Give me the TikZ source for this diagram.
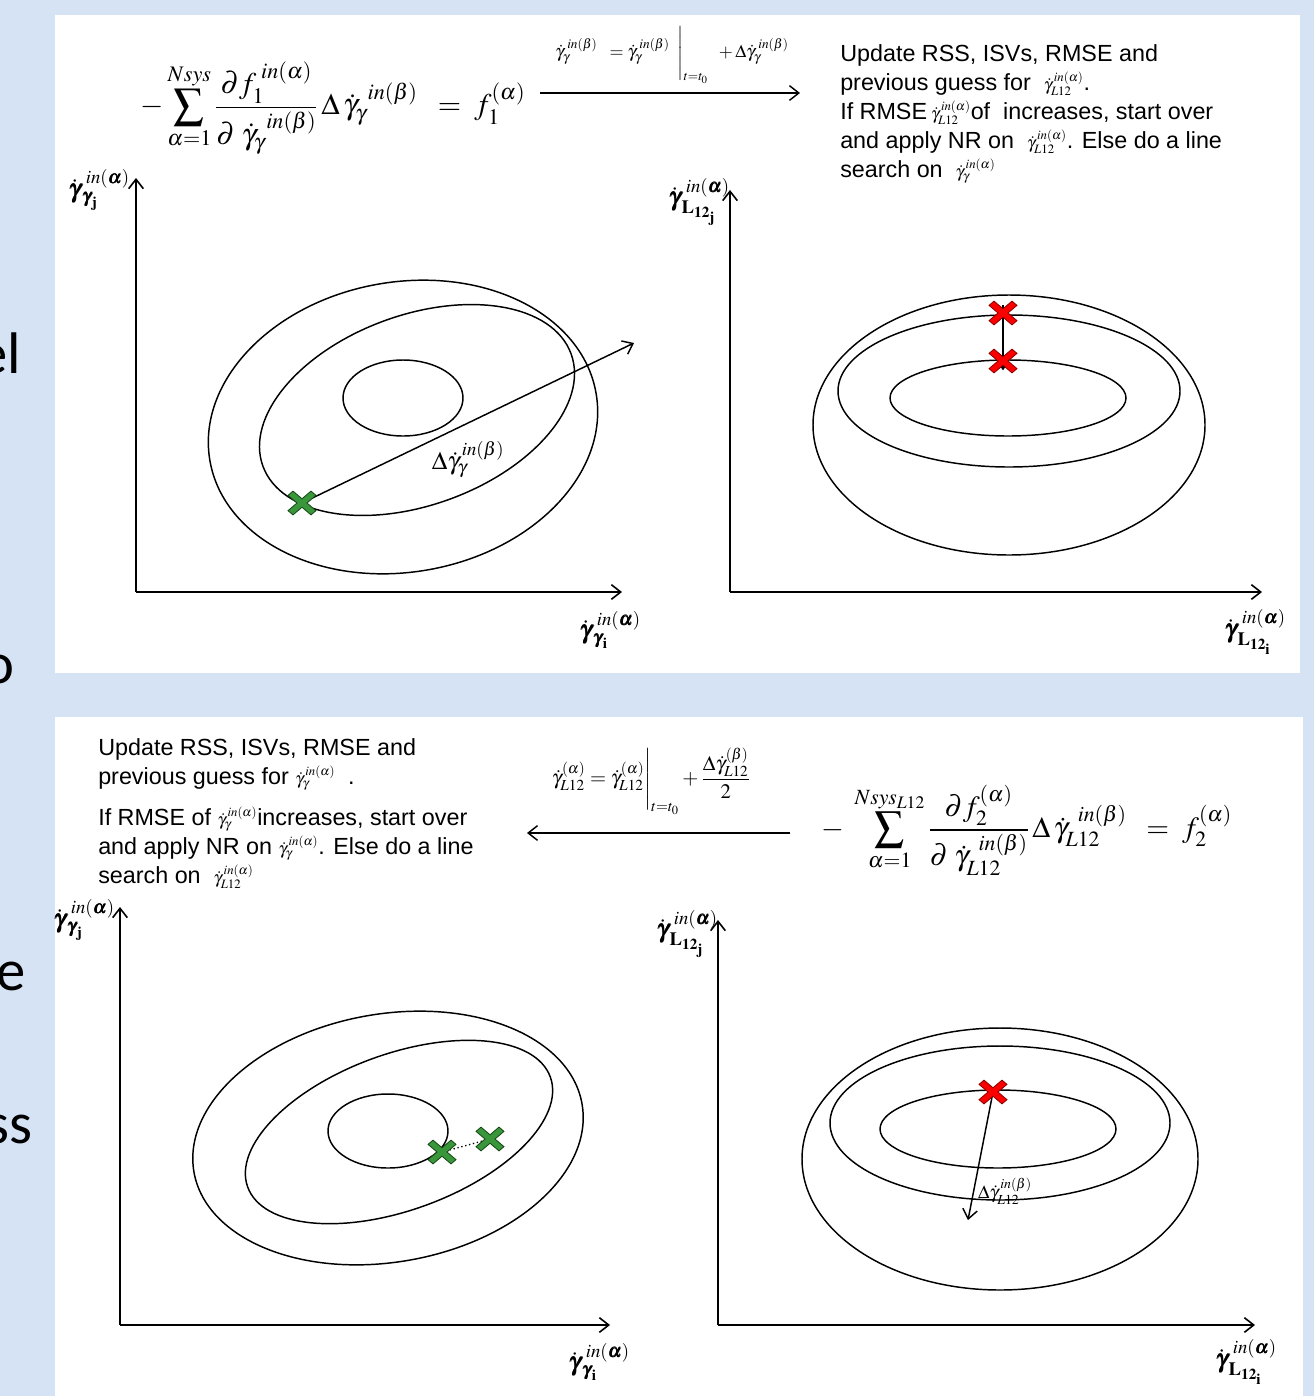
\documentclass[tikz,border=0pt]{standalone}
\usepackage{mathptmx}
\usepackage{amsmath,bm}
\usepackage[no-math]{fontspec}
\newfontfamily\arialf{Liberation Sans}
\newfontfamily\slidef{Carlito}
\usetikzlibrary{arrows.meta}
\definecolor{slideblue}{RGB}{214,227,245}
\definecolor{xgreen}{RGB}{58,150,58}
\definecolor{xgreenline}{RGB}{20,70,20}
\definecolor{xred}{RGB}{250,0,0}
\definecolor{xredline}{RGB}{140,0,0}
\newcommand\gm[1]{{\fontsize{13}{13}\selectfont$\dot\gamma_{#1}^{\,in(\alpha)}$}}
\newcommand\axl[2]{$\boldsymbol{\dot\gamma}_{#1_{\mathbf{#2}}}^{\;in(\boldsymbol{\alpha})}$}
\begin{document}
\begin{tikzpicture}[x=0.75pt,y=-0.75pt,
  panel/.style={fill=white,draw=none},
  axis/.style={line width=1.2pt,-{Straight Barb[length=7pt,width=11pt,line width=1.2pt]}},
  conn/.style={line width=1.1pt,-{Straight Barb[length=7pt,width=11pt,line width=1.1pt]}},
  small conn/.style={line width=0.9pt,-{Straight Barb[length=5pt,width=7pt,line width=0.9pt]}},
  ell/.style={line width=1.1pt},
  txt/.style={font=\arialf\fontsize{17.5}{21.75}\selectfont,align=left,inner sep=0pt},
  eq/.style={font=\fontsize{22.5}{27}\selectfont,inner sep=0pt},
  smalleq/.style={font=\fontsize{13.5}{15}\selectfont,inner sep=0pt},
  axlab/.style={font=\fontsize{19}{21}\selectfont,inner sep=0pt},
  cut/.style={font=\slidef\fontsize{44}{50}\selectfont,anchor=base east,inner sep=0pt},
  pics/xmark/.style 2 args={code={
    \fill[#1,draw=#2,line width=0.6pt,yscale=0.85]
      (0,-5) -- (9,-14) -- (14,-9) -- (5,0) -- (14,9) -- (9,14) -- (0,5)
      -- (-9,14) -- (-14,9) -- (-5,0) -- (-14,-9) -- (-9,-14) -- cycle;}}
]
\useasboundingbox (0,0) rectangle (1314,1396);
\clip (0,0) rectangle (1314,1396);
\fill[slideblue] (0,0) rectangle (1314,1396);
% cut-off slide text at the left edge
\node[cut] (c1) at (21,373) {el};
\node[cut] (c2) at (15,683) {o};
\node[cut] (c3) at (26,990) {e};
\node[cut] (c4) at (33,1143) {ss};
% panels
\fill[panel] (55,15) rectangle (1300,673);
\fill[panel] (55,717) rectangle (1303,1396);

%================ TOP PANEL =================
\node[eq] (eq1) at (333,108) {$\displaystyle -\sum_{\alpha=1}^{Nsys}\frac{\partial f_1^{\;in(\alpha)}}{\partial\;\dot\gamma_\gamma^{\;\;in(\beta)}}\,\Delta\,\dot\gamma_\gamma^{\;\;in(\beta)} \;\;=\; f_1^{(\alpha)}$};
\node[smalleq] (up1) at (672,55) {$\dot\gamma_\gamma^{\;in(\beta)} \;\;=\dot\gamma_\gamma^{\;in(\beta)}\;\;\Bigg|_{t=t_0} \;\;+\Delta\dot\gamma_\gamma^{\;in(\beta)}$};
\coordinate (a1s) at (540,93);
\coordinate (a1e) at (800,93);
\draw[conn] (a1s) -- (a1e);
\node[txt,anchor=north west] (t1) at (840,44) {Update RSS, ISVs, RMSE and\\
previous guess for \ \gm{L12}.\\
If RMSE\,\gm{L12}of \ increases, start over\\
and apply NR on \ \gm{L12}. Else do a line\\
search on \ \gm{\gamma}};

% top-left chart
\coordinate (o1) at (136,592);
\coordinate (y1) at (136,178);
\coordinate (x1) at (622,592);
\draw[axis] (o1) -- (y1);
\draw[axis] (o1) -- (x1);
\node[axlab] (ly1) at (99,190) {\axl{\boldsymbol\gamma}{j}};
\node[axlab] (lx1) at (610,630) {\axl{\boldsymbol\gamma}{i}};
\draw[ell,rotate around={10:(403,427)}] (403,427) ellipse [x radius=196, y radius=145];
\draw[ell,rotate around={20:(417,410)}] (417,410) ellipse [x radius=164, y radius=95];
\draw[ell] (403,398) ellipse [x radius=60, y radius=38];
\coordinate (g1) at (302,503);
\coordinate (g1e) at (634,343);
\draw[conn] (g1) -- (g1e);
\pic (gx1) at (g1) {xmark={xgreen}{xgreenline}};
\node[font=\fontsize{19}{21}\selectfont,inner sep=0pt] (d1) at (468,460) {$\Delta\dot\gamma_\gamma^{\,in(\beta)}$};

% top-right chart
\coordinate (o2) at (730,592);
\coordinate (y2) at (730,190);
\coordinate (x2) at (1262,592);
\draw[axis] (o2) -- (y2);
\draw[axis] (o2) -- (x2);
\node[axlab] (ly2) at (699,202) {\axl{\mathbf{L}}{12_j}};
\node[axlab] (lx2) at (1255,632) {\axl{\mathbf{L}}{12_i}};
\draw[ell] (1009,425) ellipse [x radius=196, y radius=130];
\draw[ell] (1009,391) ellipse [x radius=171, y radius=76];
\draw[ell] (1008,398) ellipse [x radius=118, y radius=38];
\coordinate (r1) at (1003,313);
\coordinate (r2) at (1003,361);
\draw[small conn] ([yshift=6]r1) -- ([yshift=-7]r2);
\pic (rx1) at (r1) {xmark={xred}{xredline}};
\pic (rx2) at (r2) {xmark={xred}{xredline}};

%================ BOTTOM PANEL =================
\node[txt,anchor=north west] (t2) at (98,738) {Update RSS, ISVs, RMSE and\\
previous guess for \gm{\gamma}\ \ .\\[9pt]
If RMSE of \gm{\gamma}increases, start over\\
and apply NR on \gm{\gamma}. Else do a line\\
search on \ \gm{L12}};
\node[smalleq,font=\fontsize{15.5}{17}\selectfont] (up2) at (651,781) {$\dot\gamma_{L12}^{(\alpha)} = \dot\gamma_{L12}^{(\alpha)}\Bigg|_{t=t_0} + \dfrac{\Delta\dot\gamma_{L12}^{(\beta)}}{2}$};
\coordinate (a2s) at (790,833);
\coordinate (a2e) at (527,833);
\draw[conn] (a2s) -- (a2e);
\node[eq,font=\fontsize{22}{26}\selectfont] (eq2) at (1027,830) {$\displaystyle -\;\sum_{\alpha=1}^{Nsys_{L12}}\frac{\partial f_2^{(\alpha)}}{\partial\;\dot\gamma_{L12}^{\;\;in(\beta)}}\,\Delta\,\dot\gamma_{L12}^{\;\;in(\beta)} \;\;=\; f_2^{(\alpha)}$};

% bottom-left chart
\coordinate (o3) at (120,1325);
\coordinate (y3) at (120,907);
\coordinate (x3) at (610,1325);
\draw[axis] (o3) -- (y3);
\draw[axis] (o3) -- (x3);
\node[axlab] (ly3) at (84,920) {\axl{\boldsymbol\gamma}{j}};
\node[axlab] (lx3) at (599,1362) {\axl{\boldsymbol\gamma}{i}};
\draw[ell,rotate around={10:(388,1138)}] (388,1138) ellipse [x radius=197, y radius=124];
\draw[ell,rotate around={20:(399,1132)}] (399,1132) ellipse [x radius=161, y radius=78];
\draw[ell] (388,1131) ellipse [x radius=60, y radius=37];
\coordinate (g2) at (442,1152);
\coordinate (g3) at (490,1139);
\draw[line width=1pt,dotted] (g2) -- (g3);
\pic (gx2) at (g2) {xmark={xgreen}{xgreenline}};
\pic (gx3) at (g3) {xmark={xgreen}{xgreenline}};

% bottom-right chart
\coordinate (o4) at (718,1325);
\coordinate (y4) at (718,920);
\coordinate (x4) at (1255,1325);
\draw[axis] (o4) -- (y4);
\draw[axis] (o4) -- (x4);
\node[axlab] (ly4) at (687,934) {\axl{\mathbf{L}}{12_j}};
\node[axlab] (lx4) at (1246,1362) {\axl{\mathbf{L}}{12_i}};
\draw[ell] (1000,1159) ellipse [x radius=198, y radius=131];
\draw[ell] (1000,1123) ellipse [x radius=170, y radius=77];
\draw[ell] (998,1129) ellipse [x radius=118, y radius=39];
\coordinate (r3) at (993,1092);
\coordinate (r3e) at (968,1220);
\draw[conn] (r3) -- (r3e);
\pic (rx3) at (r3) {xmark={xred}{xredline}};
\node[font=\fontsize{14}{16}\selectfont,inner sep=0pt] (d2) at (1005,1191) {$\Delta\dot\gamma_{L12}^{\,in(\beta)}$};
\end{tikzpicture}
\end{document}
